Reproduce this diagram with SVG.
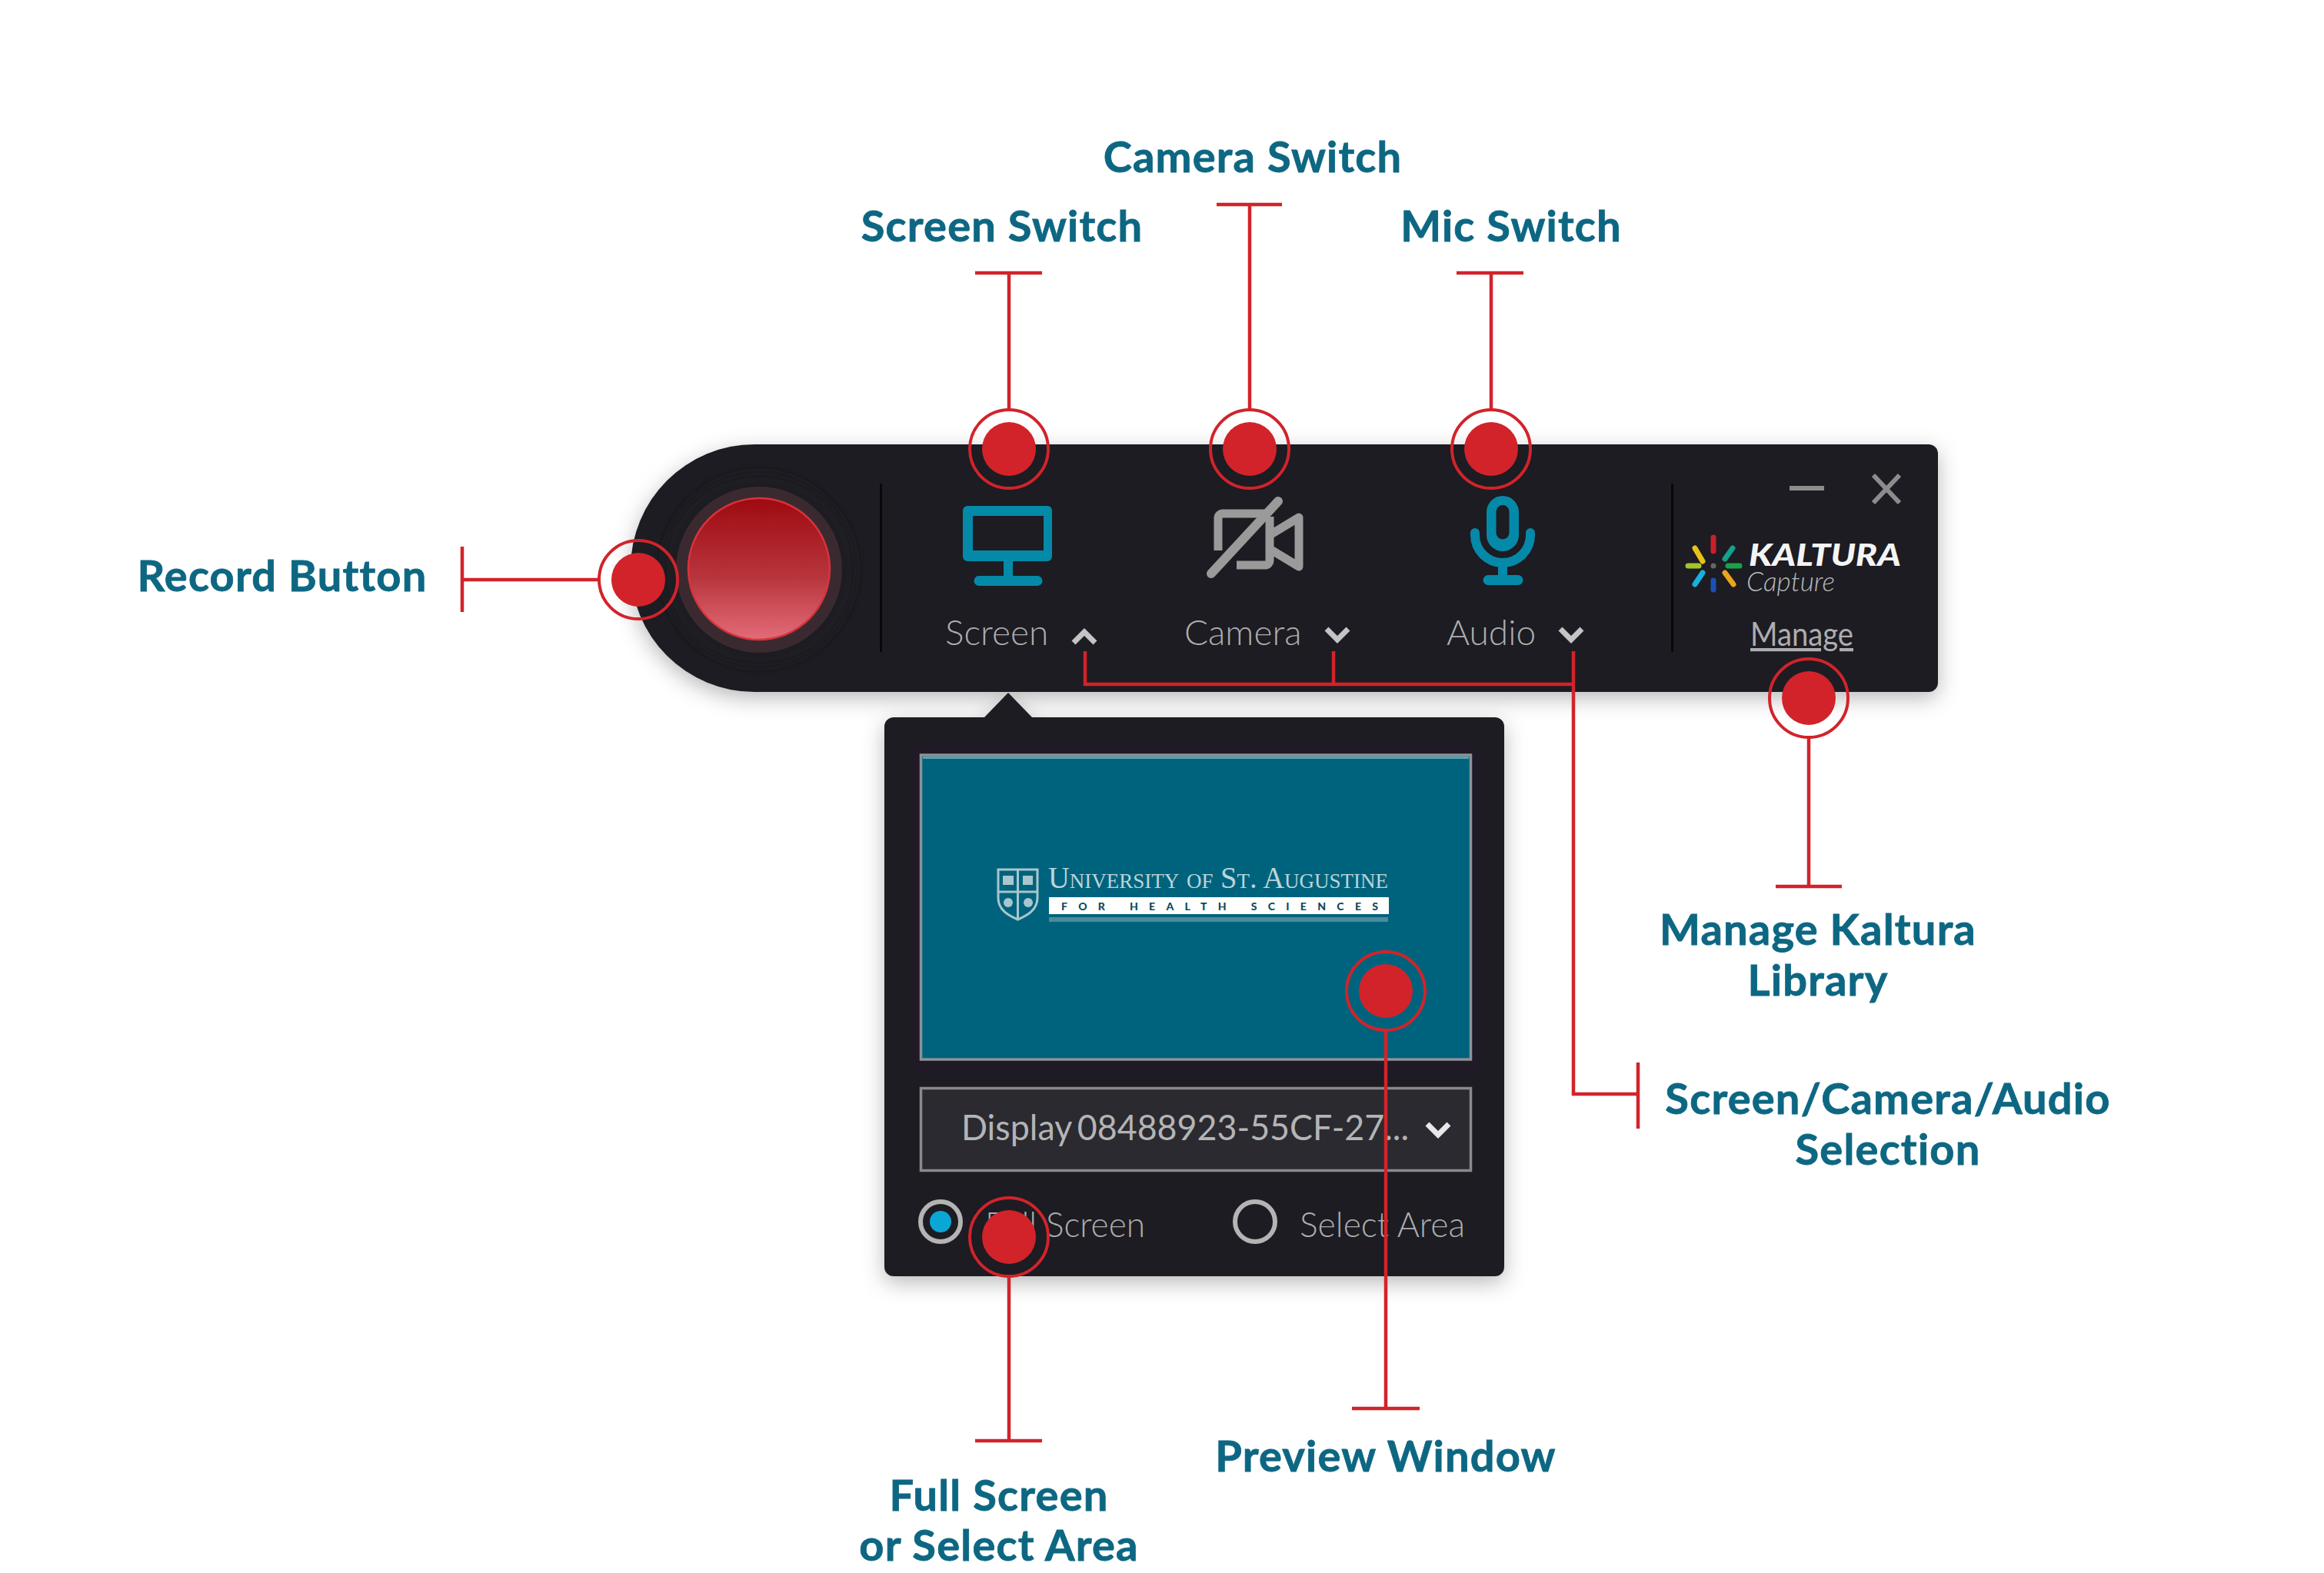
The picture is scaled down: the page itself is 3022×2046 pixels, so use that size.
<svg xmlns="http://www.w3.org/2000/svg" width="3022" height="2046" viewBox="0 0 3022 2046">
<style>
.lbl{font:700 56px Lato,"Liberation Sans",sans-serif;letter-spacing:1.2px;fill:#0d6782;stroke:#0d6782;stroke-width:.8px;text-anchor:middle}
.ui{font:300 46px Lato,"Liberation Sans",sans-serif;fill:#adadaf}
.line{fill:none;stroke:#d2232a;stroke-width:4.500}
.ring{fill:none;stroke:#d2232a;stroke-width:4}
.dot{fill:#d2232a}
.chev{fill:none;stroke:#c4c4c4;stroke-width:7}
.teal{fill:#0589a8}
.ray{stroke-width:7;stroke-linecap:round}
</style>
<defs>
<filter id="sh" x="-10%" y="-20%" width="120%" height="140%"><feDropShadow dx="0" dy="8" stdDeviation="14" flood-color="#000" flood-opacity=".28"/></filter>
<filter id="sf" x="-30%" y="-30%" width="160%" height="160%"><feGaussianBlur stdDeviation="6"/></filter>
<linearGradient id="rec" x1="0" y1="0" x2="0" y2="1"><stop offset="0" stop-color="#9e0a10"/><stop offset=".55" stop-color="#b8343c"/><stop offset="1" stop-color="#e26c78"/></linearGradient>
<g id="c"><circle r="35" class="dot"/><circle r="51" class="ring"/></g>
</defs>
<rect width="3022" height="2046" fill="#fff"/>

<g id="toolbar">
<path d="M981 578H2508a12 12 0 0 1 12 12V888a12 12 0 0 1-12 12H981a161 161 0 0 1 0-322Z" fill="#1e1f24" filter="url(#sh)"/>
<rect x="1144" y="629" width="3" height="219" fill="#08080a"/>
<rect x="2173" y="629" width="3" height="219" fill="#08080a"/>
</g>

<g id="record-button">
<circle cx="987" cy="741" r="126" fill="#1e1a22" filter="url(#sf)"/>
<circle cx="987" cy="741" r="108" fill="#3a2a30"/>
<circle cx="987" cy="740" r="92" fill="url(#rec)" stroke="#d8333c" stroke-width="2.500"/>
</g>

<g id="screen-toggle">
<path class="teal" fill-rule="evenodd" d="M1258 658H1362a6 6 0 0 1 6 6V724a6 6 0 0 1-6 6H1317V749H1349a6.500 6.500 0 0 1 0 13H1273a6.500 6.500 0 0 1 0-13H1305V730H1258a6 6 0 0 1-6-6V664a6 6 0 0 1 6-6ZM1265 671V716H1357V671Z"/>
<text class="ui" x="1229" y="839">Screen</text>
<path class="chev" d="M1396 836L1410 822L1424 836"/>
</g>

<g id="camera-toggle">
<path d="M1647 668H1590a6 6 0 0 0-6 6V716M1608 735H1645a6 6 0 0 0 6-6V672M1651 696L1689 673V737L1651 714" fill="none" stroke="#9a9a9a" stroke-width="11" stroke-linejoin="round"/>
<path d="M1575 746L1662 652" stroke="#9a9a9a" stroke-width="12" stroke-linecap="round"/>
<text class="ui" x="1540" y="839">Camera</text>
<path class="chev" d="M1725 818L1739 832L1753 818"/>
</g>

<g id="audio-toggle">
<path class="teal" fill-rule="evenodd" d="M1954 645a21 21 0 0 1 21 21V696a21 21 0 0 1-42 0V666a21 21 0 0 1 21-21ZM1954 657a8.500 8.500 0 0 0-8.500 8.500V693a8.500 8.500 0 0 0 17 0V665.500a8.500 8.500 0 0 0-8.500-8.500Z"/>
<path d="M1918 693V696a36 36 0 0 0 72 0V693" fill="none" stroke="#0589a8" stroke-width="12" stroke-linecap="round"/>
<path class="teal" d="M1948 732H1960V748H1974a6.500 6.500 0 0 1 0 13H1935a6.500 6.500 0 0 1 0-13H1948Z"/>
<text class="ui" x="1881" y="839">Audio</text>
<path class="chev" d="M2029 818L2043 832L2057 818"/>
</g>

<g id="window-buttons">
<path d="M2327 635H2372" stroke="#8c8c8e" stroke-width="6"/>
<path d="M2436 618L2470 654M2470 618L2436 654" stroke="#8c8c8e" stroke-width="6"/>
</g>

<g id="kaltura-logo">
<g class="ray">
<path d="M2228 699V717" stroke="#c8202a"/>
<path d="M2204 713L2214 730" stroke="#e6c21a"/>
<path d="M2253 713L2243 727" stroke="#14a08c"/>
<path d="M2195 736H2209" stroke="#a3c42c"/>
<path d="M2247 736H2262" stroke="#1aa14a"/>
<path d="M2204 760L2214 745" stroke="#18b0dc"/>
<path d="M2228 755V767" stroke="#1c50b4"/>
<path d="M2243 745L2254 760" stroke="#eba41c"/>
</g>
<circle cx="2228" cy="736" r="3.500" fill="#666"/>
<text x="2274" y="736" textLength="198" lengthAdjust="spacingAndGlyphs" style="font:italic 900 39px Lato,'Liberation Sans',sans-serif;fill:#f4f4f4">KALTURA</text>
<text x="2271" y="769" textLength="115" lengthAdjust="spacingAndGlyphs" style="font:italic 300 36px Lato,'Liberation Sans',sans-serif;fill:#b8b8b8">Capture</text>
<text class="ui" x="2276" y="840" textLength="134" lengthAdjust="spacingAndGlyphs" style="font-size:42px;font-weight:400" text-decoration="underline">Manage</text>
</g>

<g id="source-popup">
<g filter="url(#sh)"><path d="M1280 933L1311 901L1342 933H1944a12 12 0 0 1 12 12V1648a12 12 0 0 1-12 12H1162a12 12 0 0 1-12-12V945a12 12 0 0 1 12-12Z" fill="#1e1f24"/></g>
<rect x="1182" y="966" width="746" height="432" rx="22" fill="#1f1a26"/>
</g>

<g id="preview">
<rect x="1197.500" y="982" width="715" height="396" fill="#00637d" stroke="#8c9398" stroke-width="3.500"/>
<rect x="1200" y="984" width="710" height="3" fill="#5f9fb1"/>
<g fill="none" stroke="#a8c6ce" stroke-width="3">
<path d="M1298 1131H1349V1168C1349 1184 1335 1191 1323.500 1196C1312 1191 1298 1184 1298 1168Z"/>
<path d="M1323.500 1131V1196M1298 1160H1349"/>
</g>
<g fill="#a8c6ce"><rect x="1304" y="1139" width="14" height="12"/><rect x="1330" y="1139" width="13" height="12"/><circle cx="1311" cy="1174" r="6"/><circle cx="1337" cy="1174" r="6"/></g>
<text x="1363" y="1155" textLength="442" lengthAdjust="spacingAndGlyphs" style="font:400 40px 'Liberation Serif',serif;font-variant:small-caps;fill:#bcd4da">University of St. Augustine</text>
<rect x="1364" y="1167" width="442" height="22" fill="#fff"/>
<text x="1380" y="1184" textLength="412" style="font:900 14px Lato,'Liberation Sans',sans-serif;fill:#0a4a5e">FOR HEALTH SCIENCES</text>
<rect x="1364" y="1193" width="441" height="6" fill="#4c8a9c"/>
</g>

<g id="display-select">
<rect x="1197.500" y="1415.500" width="715" height="107" fill="#2a2a30" stroke="#8a8a8c" stroke-width="3.500"/>
<text class="ui" x="1250" y="1483" textLength="582" lengthAdjust="spacingAndGlyphs" style="font-size:46px;font-weight:400;word-spacing:-4px;fill:#b4b4b6">Display 08488923-55CF-27...</text>
<path d="M1856 1462L1870 1476L1884 1462" fill="none" stroke="#e8e8e8" stroke-width="7"/>
</g>

<g id="capture-mode">
<circle cx="1223" cy="1589" r="26" fill="none" stroke="#b4b4b4" stroke-width="6"/>
<circle cx="1223" cy="1589" r="14" fill="#0aa6d6"/>
<text class="ui" x="1281" y="1609" textLength="208" lengthAdjust="spacingAndGlyphs">Full Screen</text>
<circle cx="1632" cy="1589" r="26" fill="none" stroke="#b4b4b4" stroke-width="6"/>
<text class="ui" x="1690" y="1609" textLength="215" lengthAdjust="spacingAndGlyphs">Select Area</text>
</g>

<g id="connectors">
<path class="line" d="M601 711V796M601 754H780"/>
<path class="line" d="M1268 355H1355M1312 355V533"/>
<path class="line" d="M1582 266H1667M1625 266V533"/>
<path class="line" d="M1894 355H1981M1939 355V533"/>
<path class="line" d="M2352 959V1153M2309 1153H2395"/>
<path class="line" d="M1411 847V890H2046M1734 847V890M2046 847V1423H2130M2130 1382V1468"/>
<path class="line" d="M1802 1340V1832M1758 1832H1846"/>
<path class="line" d="M1312 1659V1874M1268 1874H1355"/>
</g>

<g id="callouts">
<use href="#c" x="830" y="754"/>
<use href="#c" x="1312" y="584"/>
<use href="#c" x="1625" y="584"/>
<use href="#c" x="1939" y="584"/>
<use href="#c" x="2352" y="908"/>
<use href="#c" x="1802" y="1289"/>
<use href="#c" x="1312" y="1609"/>
</g>

<g id="labels">
<text class="lbl" x="367" y="769">Record Button</text>
<text class="lbl" x="1303" y="314">Screen Switch</text>
<text class="lbl" x="1629" y="224">Camera Switch</text>
<text class="lbl" x="1965" y="314">Mic Switch</text>
<text class="lbl" x="2364" y="1229">Manage Kaltura</text>
<text class="lbl" x="2364" y="1295">Library</text>
<text class="lbl" x="2455" y="1449">Screen/Camera/Audio</text>
<text class="lbl" x="2455" y="1515">Selection</text>
<text class="lbl" x="1802" y="1914">Preview Window</text>
<text class="lbl" x="1299" y="1965">Full Screen</text>
<text class="lbl" x="1299" y="2030">or Select Area</text>
</g>
</svg>
